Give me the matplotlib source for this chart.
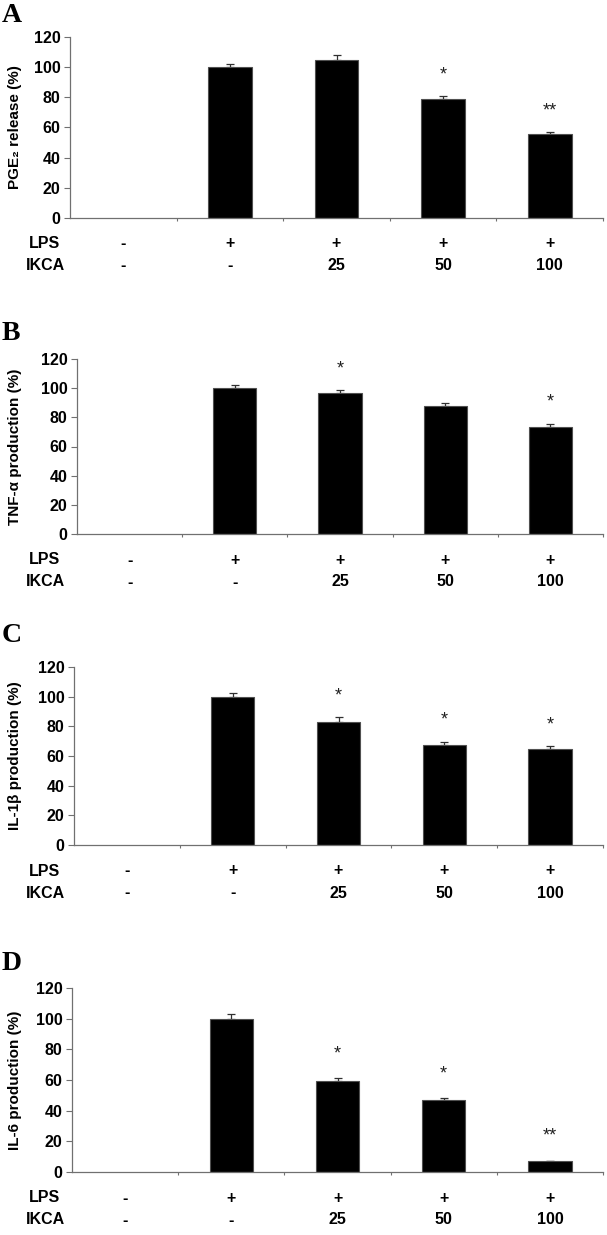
import numpy as np
import matplotlib
matplotlib.use("Agg")
import matplotlib.pyplot as plt

plt.rcParams['font.family'] = ['Liberation Sans', 'DejaVu Sans']

# group labels under the x axis
lps = ['-', '+', '+', '+', '+']
ikca = ['-', '-', '25', '50', '100']

# panel data (0 = control, no bar drawn)
pge2 = [0, 100, 105, 79, 56]
pge2_err = [0, 2, 3, 2, 1]
pge2_sig = ['', '', '', '*', '**']

tnf = [0, 100, 96.5, 87.5, 73.5]
tnf_err = [0, 2.5, 2.5, 2.5, 2]
tnf_sig = ['', '', '*', '', '*']

il1b = [0, 100, 83, 67.5, 64.5]
il1b_err = [0, 2.5, 3, 2, 2]
il1b_sig = ['', '', '*', '*', '*']

il6 = [0, 100, 59.5, 47, 7]
il6_err = [0, 3, 2, 1, 0.5]
il6_sig = ['', '', '*', '*', '**']

sig_y = {
    'A': [0, 0, 0, 95, 71],
    'B': [0, 0, 113, 0, 90.5],
    'C': [0, 0, 100.5, 84, 81],
    'D': [0, 0, 77, 64, 23.5],
}

panels = [
    ('A', 'PGE₂ release (%)', pge2, pge2_err, pge2_sig, 70, 37, 218, 22),
    ('B', 'TNF-α production (%)', tnf, tnf_err, tnf_sig, 77, 359, 534, 340),
    ('C', 'IL-1β production (%)', il1b, il1b_err, il1b_sig, 74, 667, 845, 642),
    ('D', 'IL-6 production (%)', il6, il6_err, il6_sig, 72, 988, 1172, 970),
]

W, H = 607, 1235
fig = plt.figure(figsize=(W / 100, H / 100), dpi=100)
axis_col = '#707070'

for letter, ylabel, vals, errs, sigs, left, top, bottom, base in panels:
    ax = fig.add_axes([left / W, 1 - bottom / H, (603 - left) / W, (bottom - top) / H])
    x = np.arange(len(vals))
    vals = np.array(vals, dtype=float)
    errs = np.array(errs, dtype=float)
    show = vals > 0
    ax.bar(x[show], vals[show], width=0.41, color='black', edgecolor='#505050', linewidth=0.8, zorder=2)
    ax.errorbar(x[show], vals[show], yerr=[np.zeros(show.sum()), errs[show]], fmt='none',
                ecolor='#303030', elinewidth=0.9, capsize=3, capthick=0.9, zorder=1)
    for i, s in enumerate(sigs):
        if s:
            ax.text(x[i], sig_y[letter][i], s, ha='center', va='center', fontsize=13, color='#202020')

    ax.set_xlim(-0.5, 4.5)
    ax.set_ylim(0, 120)
    ax.set_yticks(np.arange(0, 121, 20))
    ax.set_xticks(np.arange(0.5, 5, 1))
    ax.set_xticklabels([])
    ax.tick_params(axis='x', length=2, width=0.8, color=axis_col, direction='out')
    ax.tick_params(axis='y', length=4, width=0.8, color=axis_col, labelsize=11.5, pad=3)
    for t in ax.get_yticklabels():
        t.set_fontweight('bold')
    for sp in ['top', 'right']:
        ax.spines[sp].set_visible(False)
    for sp in ['left', 'bottom']:
        ax.spines[sp].set_color(axis_col)
        ax.spines[sp].set_linewidth(0.9)

    # row labels and group markers
    for row, (name, labels) in enumerate([('LPS', lps), ('IKCA', ikca)]):
        off = -(26 + 22 * row) * 0.72
        ax.annotate(name, xy=(45 / W, 0), xycoords=('figure fraction', 'axes fraction'),
                    xytext=(0, off), textcoords='offset points', ha='center', va='center',
                    fontsize=11.5, fontweight='bold')
        for i, lab in enumerate(labels):
            ax.annotate(lab, xy=(x[i], 0), xycoords=('data', 'axes fraction'),
                        xytext=(0, off), textcoords='offset points', ha='center', va='center',
                        fontsize=11.5, fontweight='bold')

    fig.text(15 / W, 1 - (top + bottom) / 2 / H, ylabel, rotation=90, ha='center', va='center',
             fontsize=11, fontweight='bold')
    fig.text(2 / W, 1 - base / H, letter, ha='left', va='baseline', fontsize=20,
             fontweight='bold', family='Liberation Serif')

fig.savefig('out.png', dpi=100)
